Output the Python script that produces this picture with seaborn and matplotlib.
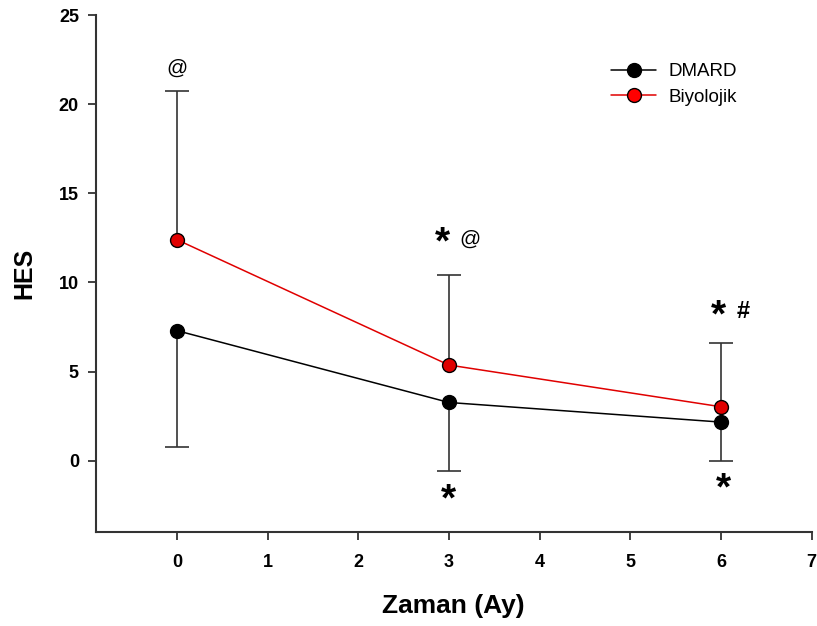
import matplotlib
matplotlib.use("Agg")
import matplotlib.pyplot as plt
import seaborn as sns
import pandas as pd
import numpy as np

months = [0, 3, 6]
dmard = [7.3, 3.27, 2.17]
dmard_lower = [0.8, -0.56, -0.02]
biyolojik = [12.4, 5.37, 3.03]
biyolojik_upper = [20.75, 10.4, 6.62]

sns.set_style("ticks")
plt.rcParams['font.family'] = ['Liberation Sans', 'DejaVu Sans']
plt.rcParams['text.color'] = 'black'

df = pd.DataFrame({
    "Zaman": months * 2,
    "HES": dmard + biyolojik,
    "Grup": ["DMARD"] * 3 + ["Biyolojik"] * 3,
})

fig = plt.figure(figsize=(8.17, 6.26), dpi=100)
ax = fig.add_axes([0.117, 0.150, 0.8764, 0.826])

ecol = "#333333"
# one-sided error bars (DMARD lower, Biyolojik upper)
ax.vlines(months, dmard_lower, dmard, color=ecol, linewidth=1.2, zorder=1)
ax.plot(months, dmard_lower, linestyle="none", marker="_", markersize=17,
        markeredgewidth=1.2, color=ecol, zorder=1)
ax.vlines(months, biyolojik, biyolojik_upper, color=ecol, linewidth=1.2, zorder=1)
ax.plot(months, biyolojik_upper, linestyle="none", marker="_", markersize=17,
        markeredgewidth=1.2, color=ecol, zorder=1)

sns.lineplot(data=df, x="Zaman", y="HES", hue="Grup",
             palette={"DMARD": "black", "Biyolojik": "#e00000"},
             marker="o", markersize=10, markeredgecolor="black", markeredgewidth=1.0,
             linewidth=1.1, ax=ax, zorder=3)
for line, fc in zip(ax.get_lines()[-2:], ["black", "#ff0000"]):
    line.set_markerfacecolor(fc)

ax.set_xlim(-0.897, 7)
ax.set_ylim(-4, 25)
ax.set_xticks(range(0, 8))
ax.set_yticks([0, 5, 10, 15, 20, 25])
for lab in ax.get_xticklabels() + ax.get_yticklabels():
    lab.set_fontweight("bold")
    lab.set_fontsize(13)
    lab.set_color("black")
ax.tick_params(direction="out", length=6, width=1.3, color="#333333")
ax.tick_params(axis="x", pad=10)
ax.tick_params(axis="y", pad=6)
for s in ["left", "bottom"]:
    ax.spines[s].set_linewidth(1.5)
    ax.spines[s].set_color("#333333")
sns.despine(ax=ax)

ax.set_xlabel("Zaman (Ay)", fontsize=19, fontweight="bold", labelpad=16, color="black")
ax.set_ylabel("HES", fontsize=18, fontweight="bold", labelpad=16, color="black")

ann_kw = dict(ha="center", va="center", color="black")
ax.text(0, 22.0, "@", fontsize=15, **ann_kw)
ax.text(2.93, 12.2, "*", fontsize=28, fontweight="bold", **ann_kw)
ax.text(3.23, 12.4, "@", fontsize=15, **ann_kw)
ax.text(3.0, -2.2, "*", fontsize=28, fontweight="bold", **ann_kw)
ax.text(5.97, 8.1, "*", fontsize=28, fontweight="bold", **ann_kw)
ax.text(6.25, 8.4, "#", fontsize=17, fontweight="bold", **ann_kw)
ax.text(6.03, -1.6, "*", fontsize=28, fontweight="bold", **ann_kw)

handles, labels = ax.get_legend_handles_labels()
leg = ax.legend(handles, labels, loc="upper left", bbox_to_anchor=(0.72, 0.907), frameon=False,
                fontsize=13.5, handlelength=2.4, labelspacing=0.45, borderaxespad=0,
                borderpad=0, handletextpad=0.65)
for t in leg.get_texts():
    t.set_color("black")

fig.savefig("out.png", dpi=100)
